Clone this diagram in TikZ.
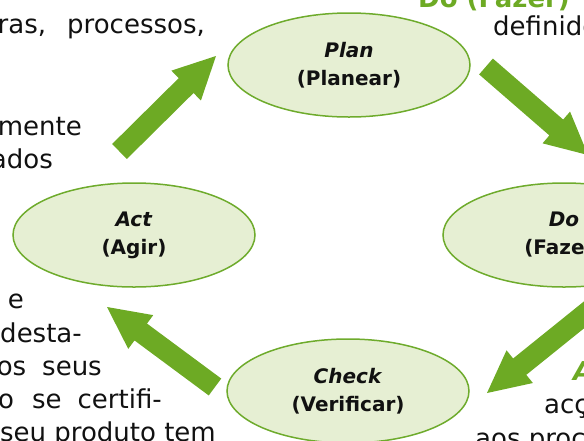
\documentclass[tikz,border=0pt]{standalone}
\usepackage{fontspec}
\setmainfont{DejaVu Sans}
\usetikzlibrary{shapes.geometric,calc}
\definecolor{pgreen}{HTML}{6DAA24}
\definecolor{efill}{HTML}{E6EFD3}
\definecolor{eline}{HTML}{6EAB2C}
\definecolor{txt}{HTML}{111111}
\newcommand\blockarrow[2]{%
  \coordinate (#1n) at ($(#2)!42pt!(#1)$);
  \fill[garrow] ($(#1)!10.5pt!90:(#2)$) -- ($(#1n)!10.5pt!90:(#2)$) -- ($(#1n)!21pt!90:(#2)$) -- (#2)
     -- ($(#1n)!21pt!-90:(#2)$) -- ($(#1n)!10.5pt!-90:(#2)$) -- ($(#1)!10.5pt!-90:(#2)$) -- cycle;}
\begin{document}
\begin{tikzpicture}[x=1pt,y=-1pt,
  phase/.style={ellipse, draw=eline, fill=efill, line width=1.5pt, minimum width=242pt,
    minimum height=104pt, inner sep=0pt, align=center,
    font=\fontsize{20}{28}\selectfont\bfseries, text=txt},
  body/.style={font=\fontsize{26}{33}\selectfont, text=txt, inner sep=0pt},
  greenhead/.style={font=\fontsize{26}{33}\selectfont\bfseries, text=pgreen, inner sep=0pt},
  garrow/.style={fill=pgreen}]
\useasboundingbox (0,0) rectangle (584,440);
\clip (0,0) rectangle (584,440);
% phases
\node[phase] (plan) at (349,65) {\textit{Plan}\\(Planear)};
\node[phase] (do) at (564,235) {\textit{Do}\\(Fazer)};
\node[phase] (check) at (348,391) {\textit{Check}\\(Verificar)};
\node[phase] (act) at (134,235) {\textit{Act}\\(Agir)};
% arrows
\coordinate (t1) at (119.5,151.5); \coordinate (p1) at (216,56);
\coordinate (t2) at (486,66.5);   \coordinate (p2) at (588,155);
\coordinate (t3) at (595,306);    \coordinate (p3) at (487,393);
\coordinate (t4) at (215,387);    \coordinate (p4) at (107,307);
\blockarrow{t1}{p1}
\blockarrow{t2}{p2}
\blockarrow{t3}{p3}
\blockarrow{t4}{p4}
% surrounding text
\node[body, anchor=base east] (l1) at (205,33) {ras,\hspace{21pt}processos,};
\node[body, anchor=base east] (l2) at (82,135) {mente};
\node[body, anchor=base east] (l3) at (53,168) {ados};
\node[body, anchor=base east] (l4) at (24,308) {e};
\node[body, anchor=base east] (l5) at (82,342) {desta-};
\node[body, anchor=base east] (l6) at (102,375) {os\hspace{16pt}seus};
\node[body, anchor=base east] (l7) at (162,408) {o\hspace{18pt}se\hspace{16pt}certifi-};
\node[body, anchor=base east] (l8) at (216,441) {seu produto tem};
\node[greenhead, anchor=base west] (r0) at (418,7) {Do (Fazer)};
\node[body, anchor=base west] (r1) at (493,35) {definido};
\node[greenhead, anchor=base west] (r2) at (573,380) {\itshape Act (Agir)};
\node[body, anchor=base west] (r3) at (544,413) {acções};
\node[body, anchor=base west] (r4) at (475,447) {aos processos};
\end{tikzpicture}
\end{document}
